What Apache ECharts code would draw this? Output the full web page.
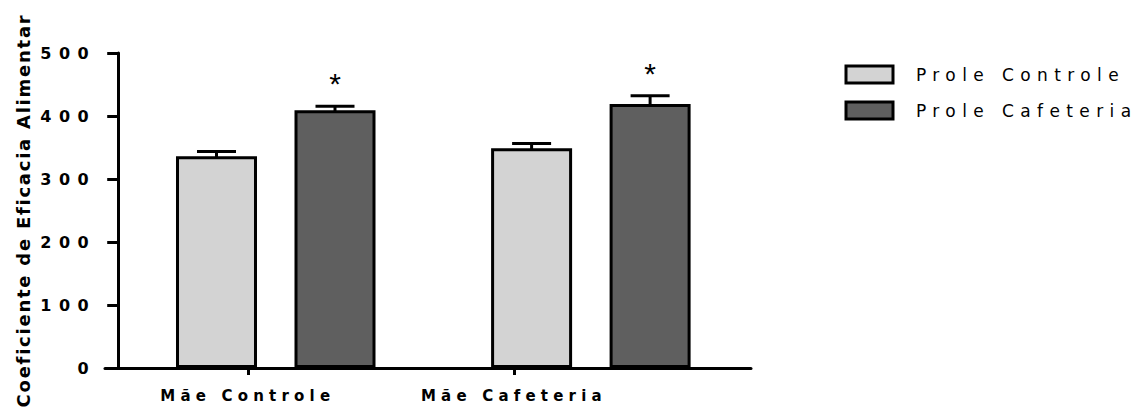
<!DOCTYPE html>
<html><head><meta charset="utf-8">
<script src="https://cdn.jsdelivr.net/npm/echarts@6/dist/echarts.min.js"></script>
<style>
html,body{margin:0;padding:0;background:#fff}
#main{width:1145px;height:408px}
#main text[style*="16px"]{letter-spacing:7.5px}
#main text[style*="15px"]{letter-spacing:5.2px}
#main text[style*="17px"]{letter-spacing:6.4px}
#main text[style*="18px"]{letter-spacing:1.75px}
</style></head><body><div id="main"></div>
<script>
const categories = ['Mãe Controle', 'Mãe Cafeteria'];
const seriesNames = ['Prole Controle', 'Prole Cafeteria'];
const valuesControle = [336, 349];
const valuesCafeteria = [409, 419];
const errorsControle = [7.5, 7.5];
const errorsCafeteria = [6.5, 13];
const marksControle = ['', ''];
const marksCafeteria = ['*', '*'];
const yMin = 0, yMax = 500, yStep = 100;
const yTitle = 'Coeficiente de Eficacia Alimentar';

const FONT = '"DejaVu Sans", sans-serif';
const BAR_W = 81, BAR_GAP = 0.463;
const OFFSET = (BAR_W + BAR_W * BAR_GAP) / 2;
const labelPos = [0.221, 0.633];

function errSeries(vals, errs, marks, sign) {
  return {
    type: 'custom', xAxisIndex: 0, yAxisIndex: 0, z: 5, silent: true,
    data: vals.map((v, i) => [i, v, errs[i]]),
    encode: { x: 0, y: 1 },
    renderItem: function (params, api) {
      const ci = api.value(0), v = api.value(1), e = api.value(2);
      const b = api.coord([ci, v]);
      const t = api.coord([ci, v + e]);
      const x = b[0] + sign * OFFSET;
      const half = 19.5;
      const st = { stroke: '#000', lineWidth: 3 };
      const ch = [
        { type: 'line', shape: { x1: x, y1: b[1] + 2, x2: x, y2: t[1] }, style: st },
        { type: 'line', shape: { x1: x - half, y1: t[1], x2: x + half, y2: t[1] }, style: st }
      ];
      const m = marks[params.dataIndex];
      if (m) {
        ch.push({ type: 'text', style: { text: m, x: x, y: t[1] - 22.5, align: 'center', verticalAlign: 'middle',
          font: 'normal 30px "Liberation Sans", sans-serif', fill: '#000' } });
      }
      return { type: 'group', children: ch };
    }
  };
}

const chart = echarts.init(document.getElementById('main'), null, { renderer: 'svg' });
chart.setOption({
  animation: false,
  backgroundColor: '#fff',
  grid: [
    { left: 118.2, right: 396.6, top: 53, bottom: 40 },
    { left: 105, right: 394, top: 53, bottom: 40 }
  ],
  legend: {
    orient: 'vertical', left: 844.5, top: 64.5, padding: 0, itemWidth: 47, itemHeight: 17, itemGap: 16,
    icon: 'rect', selectedMode: false, data: seriesNames,
    itemStyle: { borderColor: '#000', borderWidth: 3 },
    textStyle: { fontFamily: FONT, fontSize: 17, color: '#000', padding: [0, 0, 0, 18] }
  },
  xAxis: [
    { type: 'category', gridIndex: 0, data: categories, axisLine: { show: false }, axisTick: { show: false }, axisLabel: { show: false } },
    { type: 'value', gridIndex: 1, min: 0, max: 1, splitLine: { show: false },
      axisLine: { show: true, onZero: false, lineStyle: { color: '#000', width: 3 } },
      axisTick: { show: true, customValues: labelPos, length: 7, lineStyle: { color: '#000', width: 3 } },
      axisLabel: { customValues: labelPos, margin: 20, fontFamily: FONT, fontWeight: 'bold', fontSize: 15, color: '#000',
        formatter: function (v) {
          let bi = 0;
          labelPos.forEach((p, i) => { if (Math.abs(p - v) < Math.abs(labelPos[bi] - v)) bi = i; });
          return categories[bi];
        } } }
  ],
  yAxis: [
    { type: 'value', gridIndex: 0, min: yMin, max: yMax, interval: yStep,
      axisLine: { show: true, lineStyle: { color: '#000', width: 3 } },
      axisTick: { show: true, length: 11, lineStyle: { color: '#000', width: 3 } },
      axisLabel: { margin: 22, fontFamily: FONT, fontWeight: 'bold', fontSize: 16, color: '#000' },
      splitLine: { show: false },
      name: yTitle, nameLocation: 'middle', nameGap: 86,
      nameTextStyle: { fontFamily: FONT, fontWeight: 'bold', fontSize: 18, color: '#000' } },
    { type: 'value', gridIndex: 1, min: yMin, max: yMax, show: false }
  ],
  series: [
    { name: seriesNames[0], type: 'bar', xAxisIndex: 0, yAxisIndex: 0, data: valuesControle, barWidth: BAR_W, barGap: (BAR_GAP * 100) + '%',
      itemStyle: { color: '#d3d3d3', borderColor: '#000', borderWidth: 3 } },
    { name: seriesNames[1], type: 'bar', xAxisIndex: 0, yAxisIndex: 0, data: valuesCafeteria, barWidth: BAR_W, barGap: (BAR_GAP * 100) + '%',
      itemStyle: { color: '#5f5f5f', borderColor: '#000', borderWidth: 3 } },
    errSeries(valuesControle, errorsControle, marksControle, -1),
    errSeries(valuesCafeteria, errorsCafeteria, marksCafeteria, 1)
  ]
});
</script></body></html>
